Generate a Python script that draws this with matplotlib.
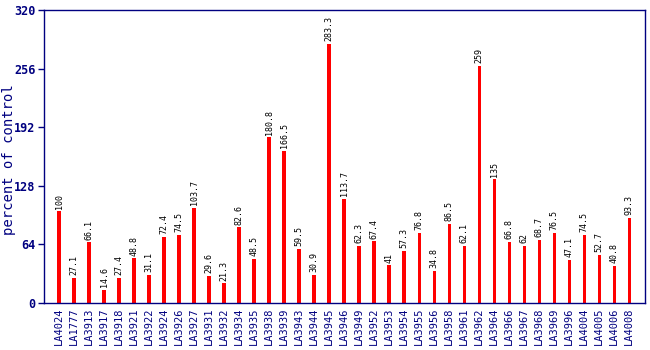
import matplotlib
matplotlib.use("Agg")
from matplotlib import pyplot as plt

lines = ["LA4024", "LA1777", "LA3913", "LA3917", "LA3918", "LA3921", "LA3922", "LA3924",
         "LA3926", "LA3927", "LA3931", "LA3932", "LA3934", "LA3935", "LA3938", "LA3939",
         "LA3943", "LA3944", "LA3945", "LA3946", "LA3949", "LA3952", "LA3953", "LA3954",
         "LA3955", "LA3956", "LA3958", "LA3961", "LA3962", "LA3964", "LA3966", "LA3967",
         "LA3968", "LA3969", "LA3996", "LA4004", "LA4005", "LA4006", "LA4008"]
values = [100, 27.1, 66.1, 14.6, 27.4, 48.8, 31.1, 72.4,
          74.5, 103.7, 29.6, 21.3, 82.6, 48.5, 180.8, 166.5,
          59.5, 30.9, 283.3, 113.7, 62.3, 67.4, 41, 57.3,
          76.8, 34.8, 86.5, 62.1, 259, 135, 66.8, 62,
          68.7, 76.5, 47.1, 74.5, 52.7, 40.8, 93.3]
yticks = [0, 64, 128, 192, 256, 320]

navy = "#000080"
mono = "DejaVu Sans Mono"

fig = plt.figure(figsize=(6.5, 3.5), dpi=100)
ax = fig.add_axes([44 / 650, 47 / 350, 601 / 650, 293 / 350])

xs = list(range(len(lines)))
ax.bar(xs, values, width=0.22, color="#ff0000")

for x, v in zip(xs, values):
    ax.text(x, v + 3, f"{v:g}", rotation=90, ha="center", va="bottom",
            fontsize=6, family=mono, color="black")

ax.set_xlim(-1, 39.05)
ax.set_ylim(0, 320)
ax.set_yticks(yticks)
ax.set_yticklabels([str(t) for t in yticks], family=mono, fontweight="bold",
                   fontsize=8.5, color=navy)
ax.set_xticks(xs)
ax.set_xticklabels(lines, rotation=90, family=mono, fontsize=7.5, color=navy)
ax.tick_params(axis="x", length=0, pad=3)
ax.tick_params(axis="y", length=4, width=1, color=navy, pad=2)

for side in ax.spines.values():
    side.set_color(navy)
    side.set_linewidth(1)

ax.set_ylabel("percent of control", family=mono, fontsize=10, color=navy,
              va="center")
ax.yaxis.set_label_coords(-0.058, 0.49)

fig.savefig("out.png", dpi=100)
plt.close(fig)
